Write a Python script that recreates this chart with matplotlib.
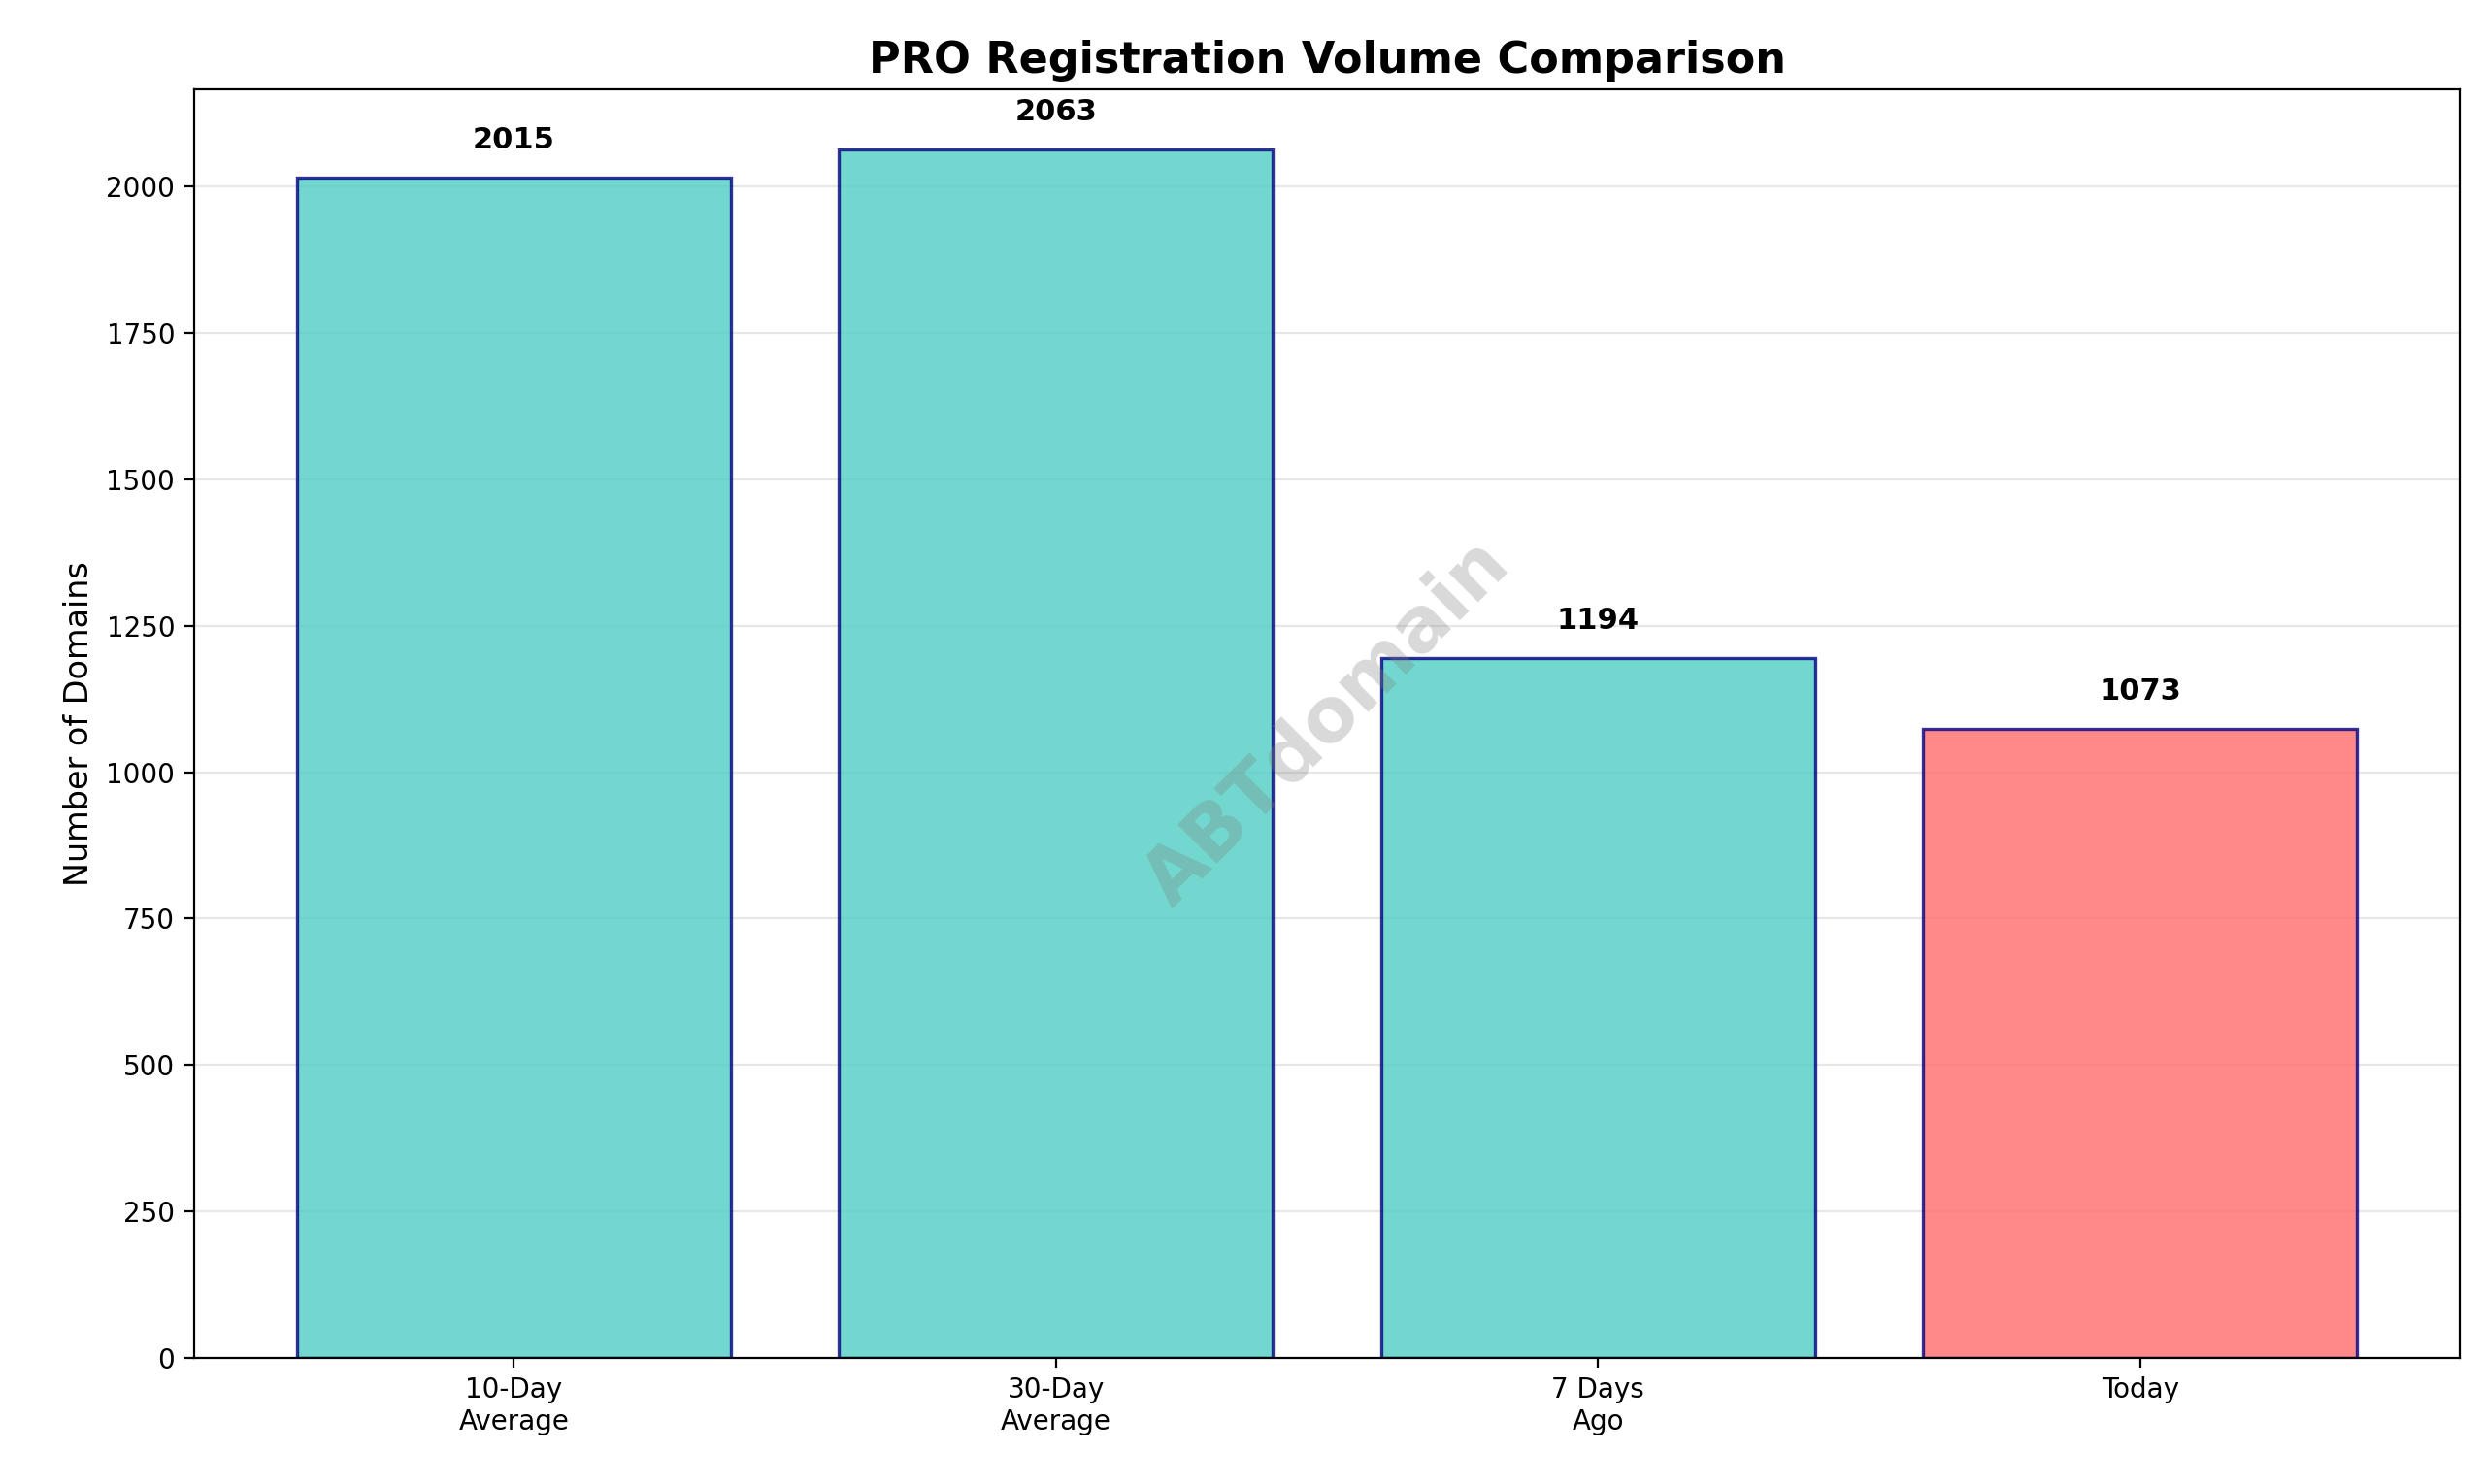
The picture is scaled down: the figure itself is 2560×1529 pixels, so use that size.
import matplotlib
matplotlib.use("Agg")
import matplotlib.pyplot as plt

categories = ["10-Day\nAverage", "30-Day\nAverage", "7 Days\nAgo", "Today"]
values = [2015, 2063, 1194, 1073]
colors = ["#4ECDC4", "#4ECDC4", "#4ECDC4", "#FF6B6B"]

fig, ax = plt.subplots(figsize=(12.8, 7.645), dpi=200)
bars = ax.bar(categories, values, color=colors, alpha=0.8, edgecolor="navy", linewidth=1.2)
for b, v in zip(bars, values):
    ax.text(b.get_x() + b.get_width() / 2, v + 40, str(v), ha="center", va="bottom",
            fontweight="bold", fontsize=11)
ax.set_title("PRO Registration Volume Comparison", fontsize=16, fontweight="bold")
ax.set_ylabel("Number of Domains", fontsize=12)
ax.grid(axis="y", alpha=0.3)
ax.set_axisbelow(True)
ax.text(0.5, 0.5, "ABTdomain", transform=ax.transAxes, fontsize=28, color="gray",
        alpha=0.3, rotation=45, ha="center", va="center", fontweight="bold")
fig.subplots_adjust(left=0.078, right=0.99, top=0.94, bottom=0.085)
fig.savefig("out.png")
